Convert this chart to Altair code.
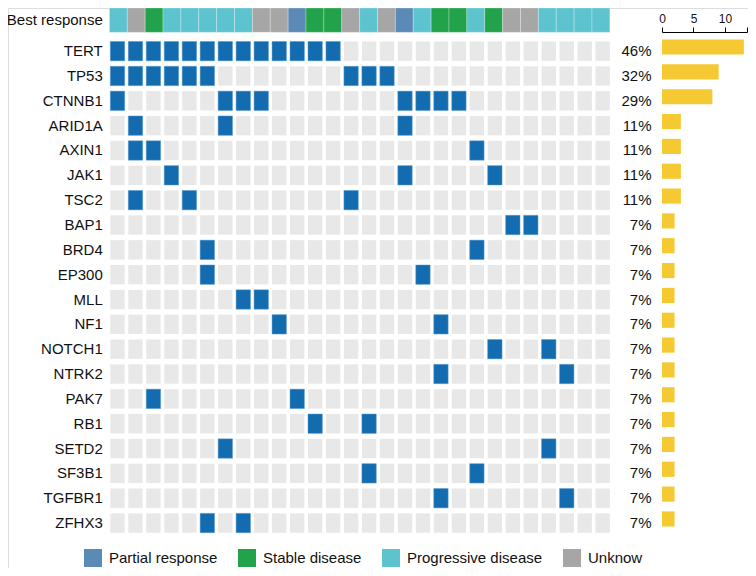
import altair as alt
import pandas as pd

# ---------------- data ----------------
genes = ["TERT", "TP53", "CTNNB1", "ARID1A", "AXIN1", "JAK1", "TSC2", "BAP1",
         "BRD4", "EP300", "MLL", "NF1", "NOTCH1", "NTRK2", "PAK7", "RB1",
         "SETD2", "SF3B1", "TGFBR1", "ZFHX3"]

# sample indices (0..27) carrying a mutation, per gene
mutated_samples = [
    [0, 1, 2, 3, 4, 5, 6, 7, 8, 9, 10, 11, 12],
    [0, 1, 2, 3, 4, 5, 13, 14, 15],
    [0, 6, 7, 8, 16, 17, 18, 19],
    [1, 6, 16],
    [1, 2, 20],
    [3, 16, 21],
    [1, 4, 13],
    [22, 23],
    [5, 20],
    [5, 17],
    [7, 8],
    [9, 18],
    [21, 24],
    [18, 25],
    [2, 10],
    [11, 14],
    [6, 24],
    [14, 20],
    [18, 25],
    [5, 7],
]

percent_labels = ["46%", "32%", "29%", "11%", "11%", "11%", "11%", "7%", "7%", "7%",
                  "7%", "7%", "7%", "7%", "7%", "7%", "7%", "7%", "7%", "7%"]

response_categories = ["Partial response", "Stable disease", "Progressive disease", "Unknow"]
response_colors = ["#5A8AB5", "#22A24A", "#5CC3CF", "#A6A6A6"]

best_response = [
    "Progressive disease", "Unknow", "Stable disease", "Progressive disease",
    "Progressive disease", "Progressive disease", "Progressive disease",
    "Progressive disease", "Unknow", "Unknow", "Partial response",
    "Stable disease", "Stable disease", "Unknow", "Progressive disease",
    "Unknow", "Partial response", "Progressive disease", "Stable disease",
    "Stable disease", "Progressive disease", "Stable disease", "Unknow",
    "Unknow", "Progressive disease", "Progressive disease",
    "Progressive disease", "Progressive disease",
]

n_samples = len(best_response)

# ---------------- tables ----------------
cell_w = 0.8
cell_h = 0.39
bg_rows, mut_rows = [], []
for gi, g in enumerate(genes):
    r = gi + 1
    for s in range(n_samples):
        row = dict(gene=g, sample=s, x=s, x2=s + cell_w, y=r - cell_h, y2=r + cell_h)
        bg_rows.append(row)
        if s in mutated_samples[gi]:
            mut_rows.append(row)
bg_df = pd.DataFrame(bg_rows)
mut_df = pd.DataFrame(mut_rows)

k = (n_samples - 0.15) / n_samples
br_df = pd.DataFrame([
    dict(sample=s, response=resp, x=-0.05 + s * k, x2=-0.05 + (s + 1) * k,
         y=-0.737, y2=0.243)
    for s, resp in enumerate(best_response)
])

label_df = pd.DataFrame(
    [dict(label="Best response", r=-0.247, lx=-0.42)] +
    [dict(label=g, r=i + 1, lx=-0.42) for i, g in enumerate(genes)]
)

pct_df = pd.DataFrame([dict(label=p, r=i + 1, px=30.12) for i, p in enumerate(percent_labels)])

bar_df = pd.DataFrame([
    dict(gene=g, count=len(m), x0=0, y=i + 1 - 0.47, y2=i + 1 + 0.14)
    for i, (g, m) in enumerate(zip(genes, mutated_samples))
])

# ---------------- scales ----------------
FONT = "Liberation Sans"
xs = alt.Scale(domain=[-5.693, 35.487], nice=False, zero=False)
ys = alt.Scale(domain=[-0.737, 21.81], nice=False, zero=False, reverse=True)


def X(f):
    return alt.X(f, type="quantitative", scale=xs, axis=None)


def Y(f):
    return alt.Y(f, type="quantitative", scale=ys, axis=None)


bg = alt.Chart(bg_df).mark_rect(color="#E8E8E8").encode(
    x=X("x"), x2="x2", y=Y("y"), y2="y2")

mut = alt.Chart(mut_df).mark_rect(color="#136CB0", stroke="#5E9FD3", strokeWidth=0.5).encode(
    x=X("x"), x2="x2", y=Y("y"), y2="y2")

br = alt.Chart(br_df).mark_rect(stroke="white", strokeWidth=0.8, strokeOpacity=0.35).encode(
    x=X("x"), x2="x2", y=Y("y"), y2="y2",
    color=alt.Color(
        "response:N",
        scale=alt.Scale(domain=response_categories, range=response_colors),
        legend=alt.Legend(
            orient="none", legendX=76, legendY=541, direction="horizontal",
            title=None, symbolType="square", symbolSize=324,
            symbolStrokeWidth=0, symbolOpacity=1, labelFontSize=15,
            labelFont=FONT, labelColor="#111111", columnPadding=20,
            labelOffset=7, padding=0, labelLimit=300,
        ),
    ),
)

labels = alt.Chart(label_df).mark_text(
    align="right", baseline="middle", fontSize=15, font=FONT, color="#111111"
).encode(x=X("lx"), y=Y("r"), text="label:N")

pcts = alt.Chart(pct_df).mark_text(
    align="right", baseline="middle", fontSize=15, font=FONT, color="#111111"
).encode(x=X("px"), y=Y("r"), text="label:N")

bars = alt.Chart(bar_df).mark_rect(color="#F5C932").encode(
    x=alt.X(
        "x0:Q",
        scale=alt.Scale(domain=[0, 13.5], range=[654, 739], nice=False, zero=True),
        axis=alt.Axis(
            orient="top", values=[0, 5, 10, 13.5], offset=-24,
            labelExpr="datum.value > 12 ? '' : datum.label",
            grid=False, domainColor="black", tickColor="black",
            domainWidth=1, tickWidth=1, tickSize=5, labelFontSize=12,
            labelFont=FONT, labelColor="#111111", labelPadding=2,
            title=None, labelFlush=False,
        ),
    ),
    x2="count:Q",
    y=Y("y"), y2="y2",
)

chart = (
    alt.layer(bg, mut, br, labels, pcts, bars)
    .resolve_scale(x="independent")
    .properties(width=740, height=560, autosize=alt.AutoSizeParams(type="none"),
                padding=0, background="white")
    .configure_view(stroke=None)
    .configure(font=FONT)
)

chart.save("out.html", embed_options={"renderer": "svg", "actions": False})
